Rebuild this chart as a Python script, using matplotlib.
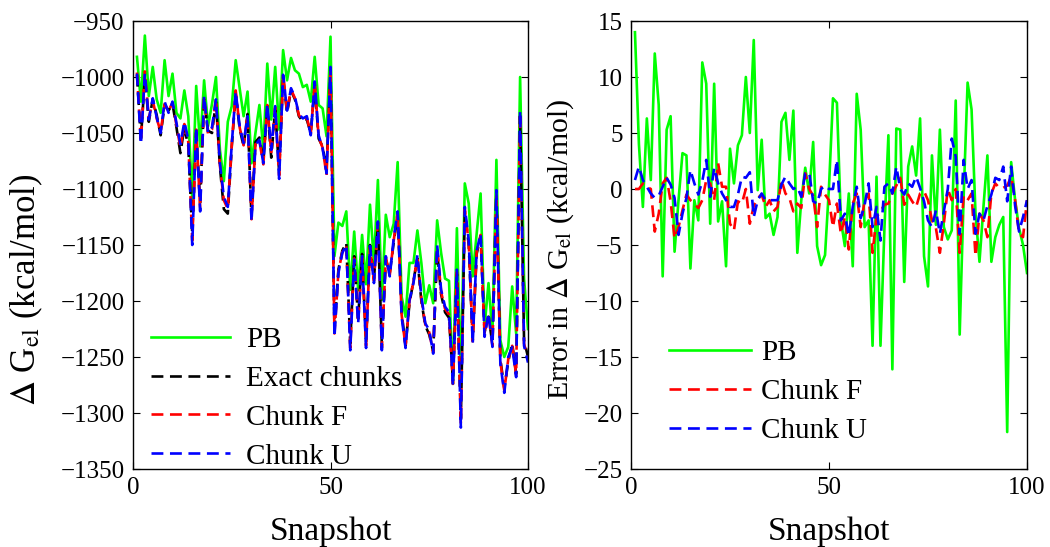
import numpy as np
import matplotlib
matplotlib.use("Agg")
import matplotlib.pyplot as plt

plt.rcParams['font.family'] = ['Liberation Serif', 'DejaVu Serif']
plt.rcParams['mathtext.fontset'] = 'stix'

snapshots = list(range(1, 101))

pb_left = [-982, -1022, -963, -1017, -991, -1020, -1032, -985, -1017, -997,
           -1032, -1037, -1012, -1035, -1110, -1008, -1062, -1003, -1044, -1024,
           -1000, -1065, -1093, -1040, -1026, -985, -1010, -1035, -1013, -1077,
           -1050, -1025, -1065, -988, -1038, -991, -1047, -976, -1003, -983,
           -994, -997, -1009, -1007, -1022, -982, -1025, -1028, -1053, -964,
           -1160, -1130, -1133, -1120, -1190, -1138, -1190, -1141, -1185, -1114,
           -1166, -1092, -1199, -1123, -1143, -1131, -1076, -1196, -1214, -1166,
           -1166, -1137, -1166, -1202, -1186, -1202, -1128, -1157, -1180, -1182,
           -1274, -1135, -1271, -1095, -1113, -1178, -1140, -1104, -1223, -1184,
           -1229, -1074, -1235, -1250, -1241, -1187, -1229, -1000, -1180, -1225]

exact_left = [-998, -1055, -1000, -1040, -1020, -1034, -1052, -1025, -1030, -1024,
              -1045, -1068, -1045, -1062, -1140, -1050, -1112, -1020, -1048, -1050,
              -1022, -1080, -1118, -1122, -1062, -1015, -1046, -1062, -1033, -1125,
              -1058, -1054, -1075, -1027, -1072, -1028, -1085, -1000, -1032, -1012,
              -1020, -1035, -1040, -1038, -1050, -1008, -1055, -1062, -1082, -995,
              -1225, -1172, -1155, -1148, -1238, -1160, -1216, -1158, -1238, -1150,
              -1180, -1132, -1240, -1163, -1175, -1148, -1122, -1210, -1240, -1202,
              -1182, -1162, -1200, -1222, -1230, -1245, -1155, -1194, -1210, -1215,
              -1270, -1176, -1305, -1120, -1150, -1235, -1158, -1142, -1228, -1214,
              -1238, -1105, -1252, -1278, -1254, -1238, -1265, -1035, -1235, -1250]

chunkf_left = [-996, -1058, -995, -1037, -1021, -1037, -1049, -1024, -1030, -1023,
               -1043, -1063, -1042, -1058, -1146, -1047, -1117, -1018, -1051, -1047,
               -1019, -1079, -1110, -1118, -1061, -1012, -1045, -1061, -1034, -1127,
               -1060, -1057, -1078, -1025, -1068, -1027, -1088, -997, -1031, -1011,
               -1019, -1034, -1039, -1036, -1051, -1005, -1054, -1063, -1088, -992,
               -1229, -1174, -1156, -1151, -1242, -1162, -1219, -1161, -1240, -1152,
               -1182, -1130, -1242, -1161, -1177, -1146, -1121, -1212, -1241, -1200,
               -1183, -1160, -1198, -1221, -1228, -1246, -1152, -1192, -1207, -1212,
               -1274, -1174, -1310, -1118, -1148, -1236, -1156, -1141, -1230, -1212,
               -1240, -1103, -1254, -1280, -1252, -1240, -1266, -1032, -1238, -1252]

chunku_left = [-997, -1060, -997, -1038, -1019, -1036, -1050, -1022, -1032, -1022,
               -1041, -1060, -1040, -1056, -1150, -1045, -1120, -1017, -1050, -1045,
               -1020, -1077, -1107, -1116, -1060, -1013, -1044, -1059, -1035, -1129,
               -1061, -1056, -1077, -1024, -1065, -1026, -1091, -998, -1030, -1010,
               -1018, -1033, -1037, -1035, -1052, -1004, -1052, -1064, -1086, -991,
               -1232, -1175, -1157, -1150, -1244, -1163, -1220, -1160, -1242, -1151,
               -1184, -1129, -1244, -1160, -1178, -1144, -1120, -1214, -1242, -1199,
               -1184, -1159, -1196, -1220, -1226, -1247, -1150, -1190, -1205, -1210,
               -1276, -1172, -1313, -1116, -1146, -1238, -1155, -1140, -1232, -1211,
               -1241, -1101, -1256, -1282, -1250, -1241, -1268, -1030, -1240, -1255]

pb_err = [14.0, 4.0, -1.6, 6.3, 0.8, 12.1, 7.5, -7.8, 5.3, 6.5,
          -5.6, -1.0, 3.2, 3.0, -7.1, -1.0, -2.8, 11.3, 9.4, -3.1,
          9.4, -2.9, -1.1, -6.9, 3.6, 0.5, 3.9, 4.8, 10.0, 5.0,
          13.3, -0.1, 4.4, -2.6, -2.2, -4.1, -2.5, 6.0, 6.8, 2.6,
          7.0, -5.7, -1.0, 1.9, -0.4, 4.2, -5.1, -6.8, -5.9, 0.2,
          8.1, 7.7, -2.8, -5.1, -0.4, -6.9, 8.5, 5.3, -3.4, -2.8,
          -14.0, 1.1, -14.0, -3.5, 4.8, -16.1, 5.4, 5.3, -8.3, 2.0,
          3.8, 1.2, 6.3, -6.0, -8.7, 3.0, -3.2, 5.3, -3.4, -4.5,
          -3.7, 7.9, -13.0, -0.7, 9.5, 7.1, -2.2, -6.5, -1.6, 3.0,
          -6.5, -4.3, -3.2, -2.5, -21.7, 2.4, -1.0, -3.5, -5.0, -7.5]

chunkf_err = [0.0, 0.0, 0.5, 0.2, 0.0, -3.8, -2.2, 0.5, 1.0, -1.1,
              -4.4, -3.4, -1.9, -0.5, -1.0, -1.3, -1.7, -1.0, 0.8, 0.5,
              -1.0, 2.3, 0.2, 0.2, -3.1, -3.7, -1.1, -1.3, 0.0, -3.1,
              -1.5, -0.8, -0.5, -1.6, -1.0, -2.0, -1.6, 0.8, -0.4, -0.8,
              -2.0, -1.3, -1.7, 1.4, 0.0, -0.6, -3.4, 0.2, -0.5, -1.0,
              -3.4, -1.3, -4.0, -2.5, -5.4, -1.3, -0.4, -3.4, -1.0, -0.4,
              -5.7, -2.5, -2.0, -1.4, -1.3, -0.4, 0.3, 1.0, -1.4, -0.5,
              -1.1, -1.6, -0.4, -0.2, -1.0, -2.8, -3.5, -5.7, -3.1, 0.0,
              -1.0, 0.0, -5.7, -0.6, -1.0, -0.4, -6.0, -2.2, -2.8, -4.3,
              -0.4, 0.5, 0.1, 0.1, 0.3, 1.1, -1.0, -4.0, -4.3, -1.0]

chunku_err = [0.8, 2.0, 0.8, 0.2, -0.4, -0.8, -0.6, 0.2, 1.0, 0.4,
              -0.8, -4.1, -2.2, -0.8, 1.7, 0.5, -0.5, 0.7, 2.6, -0.7,
              1.9, 0.5, -0.4, -1.0, -1.6, -1.6, -0.5, 1.1, 1.0, 1.5,
              -2.5, -1.0, -0.4, -1.0, -1.0, -1.0, -1.0, 0.4, 1.1, 0.5,
              0.0, 0.2, -0.7, 1.4, 1.5, -1.1, -1.3, 0.0, 0.3, 0.0,
              0.0, 2.6, -2.8, -2.2, -4.2, -1.6, 0.2, -2.6, -1.4, 0.5,
              -3.4, -1.6, -4.6, 0.2, 0.5, -0.4, 2.0, 0.0, -0.5, 0.5,
              0.2, 1.1, 0.1, -1.1, -2.8, -3.4, -1.9, -4.0, -2.0, 0.0,
              4.5, 2.9, -4.0, 2.6, 0.0, 0.8, -4.0, -2.2, -2.8, -1.5,
              -0.5, 1.0, 0.8, 2.0, -1.1, 2.0, -1.5, -3.8, -2.5, -1.0]

GREEN = '#00ff00'
DASH = (0, (4.5, 2.5))
LW = 1.9
TICK_FS = 18
LEG_FS = 21

fig = plt.figure(figsize=(10.5, 5.47), dpi=100)
ax1 = fig.add_axes([133/1050, 78/547, 395/1050, 448/547])
ax2 = fig.add_axes([631/1050, 78/547, 396/1050, 448/547])

ax1.plot(snapshots, pb_left, color=GREEN, lw=LW, label='PB')
ax1.plot(snapshots, exact_left, color='black', lw=LW, ls=DASH, label='Exact chunks')
ax1.plot(snapshots, chunkf_left, color='red', lw=LW, ls=DASH, label='Chunk F')
ax1.plot(snapshots, chunku_left, color='blue', lw=LW, ls=DASH, label='Chunk U')
ax1.set_xlim(0, 100)
ax1.set_ylim(-1350, -950)
ax1.set_yticks(np.arange(-1350, -949, 50))
ax1.set_xticks([0, 50, 100])
ax1.set_xlabel('Snapshot', fontsize=24)
ax1.set_ylabel(r'$\Delta$ G$_{\rm el}$ (kcal/mol)', fontsize=25)
ax1.xaxis.set_label_coords(0.5, -0.105)
ax1.yaxis.set_label_coords(-0.222, 0.40)
ax1.legend(loc='lower left', bbox_to_anchor=(-0.02, -0.06), frameon=False,
           fontsize=LEG_FS, handlelength=2.7, labelspacing=0.43, handletextpad=0.55)

ax2.plot(snapshots, pb_err, color=GREEN, lw=LW, label='PB')
ax2.plot(snapshots, chunkf_err, color='red', lw=LW, ls=DASH, label='Chunk F')
ax2.plot(snapshots, chunku_err, color='blue', lw=LW, ls=DASH, label='Chunk U')
ax2.set_xlim(0, 100)
ax2.set_ylim(-25, 15)
ax2.set_yticks(np.arange(-25, 16, 5))
ax2.set_xticks([0, 50, 100])
ax2.set_xlabel('Snapshot', fontsize=24)
ax2.set_ylabel(r'Error in $\Delta$ G$_{\rm el}$ (kcal/mol)', fontsize=21.5)
ax2.xaxis.set_label_coords(0.5, -0.105)
ax2.yaxis.set_label_coords(-0.14, 0.49)
ax2.legend(loc='lower left', bbox_to_anchor=(0.03, -0.003), frameon=False,
           fontsize=LEG_FS, handlelength=2.8, labelspacing=0.43, handletextpad=0.35)

for ax in (ax1, ax2):
    ax.tick_params(direction='in', top=True, right=True, labelsize=TICK_FS, length=5, width=0.8, pad=6)
    for s in ax.spines.values():
        s.set_linewidth(1.0)

fig.savefig('out.png', dpi=100)
